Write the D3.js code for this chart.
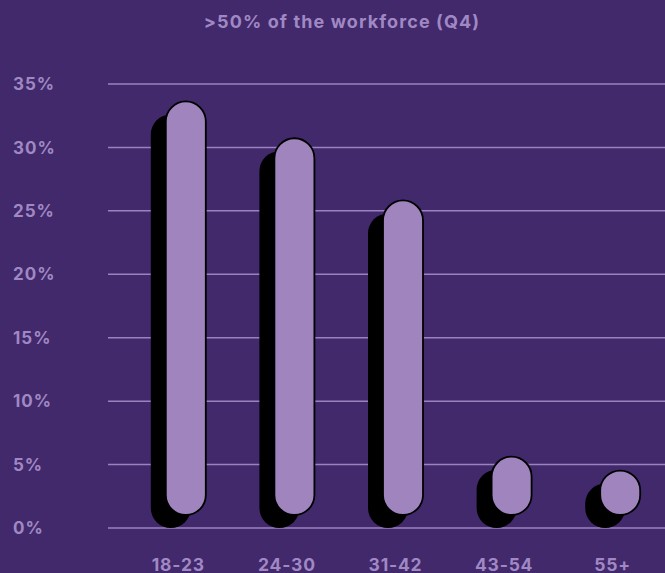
<!DOCTYPE html>
<html>
<head>
<meta charset="utf-8">
<script src="https://cdn.jsdelivr.net/npm/d3@7"></script>
<style>
  body { margin: 0; background: #41296b; }
  text { font-family: Inter, "Noto Sans", sans-serif; font-weight: 700; }
</style>
</head>
<body>
<svg id="chart"></svg>
<script>
// Chart data
let categories = ["18-23", "24-30", "31-42", "43-54", "55+"]
let values = [32.6, 29.7, 24.8, 4.6, 3.5]
let yTicks = [0, 5, 10, 15, 20, 25, 30, 35]
let title = ">50% of the workforce (Q4)"

let width = 665, height = 573
let textColor = "#a088c4"

let svg = d3.select("#chart")
    .attr("width", width)
    .attr("height", height)

svg.append("rect")
    .attr("width", width).attr("height", height)
    .attr("fill", "#41296b")

// Scales
let x = d3.scalePoint()
    .domain(categories)
    .range([124, 667])
    .padding(0.5)

let y = d3.scaleLinear()
    .domain([0, 35])
    .range([528, 84])

// Title
svg.append("text")
    .attr("x", 342).attr("y", 28)
    .attr("text-anchor", "middle")
    .style("font-size", "18px")
    .style("letter-spacing", "1.1px")
    .attr("fill", textColor)
    .text(title)

// Gridlines
svg.append("g")
    .selectAll("line")
    .data(yTicks)
    .join("line")
    .attr("x1", 108).attr("x2", width)
    .attr("y1", d => y(d)).attr("y2", d => y(d))
    .attr("stroke", "#9b82bf")
    .attr("stroke-width", 1.5)

// Y tick labels
svg.append("g")
    .selectAll("text")
    .data(yTicks)
    .join("text")
    .attr("x", 13)
    .attr("y", d => y(d))
    .attr("dy", "0.36em")
    .style("font-size", "17px")
    .style("letter-spacing", "1px")
    .attr("fill", textColor)
    .text(d => d + "%")

// X labels
svg.append("g")
    .selectAll("text")
    .data(categories)
    .join("text")
    .attr("x", d => x(d))
    .attr("y", 571)
    .attr("text-anchor", "middle")
    .style("font-size", "17.5px")
    .style("letter-spacing", "0.8px")
    .attr("fill", textColor)
    .text(d => d)

let barW = 40
let shift = {dx: 15, dy: -13}

// Shadow pills
svg.append("g")
    .selectAll("rect")
    .data(values)
    .join("rect")
    .attr("x", (d, i) => x(categories[i]) - shift.dx / 2 - barW / 2)
    .attr("y", d => y(d))
    .attr("width", barW)
    .attr("height", d => y(0) - y(d))
    .attr("rx", barW / 2)
    .attr("fill", "#000")

// Front pills
svg.append("g")
    .selectAll("rect")
    .data(values)
    .join("rect")
    .attr("x", (d, i) => x(categories[i]) + shift.dx / 2 - barW / 2)
    .attr("y", d => y(d) + shift.dy)
    .attr("width", barW)
    .attr("height", d => y(0) - y(d))
    .attr("rx", barW / 2)
    .attr("fill", "#a084bd")
    .attr("stroke", "#000")
    .attr("stroke-width", 1.8)
</script>
</body>
</html>
